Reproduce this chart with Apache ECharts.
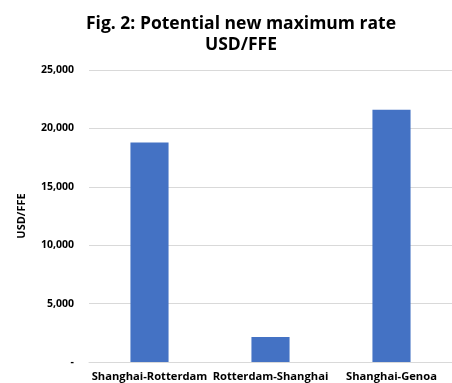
<!DOCTYPE html>
<html>
<head>
<meta charset="utf-8">
<script src="https://cdn.jsdelivr.net/npm/echarts@6/dist/echarts.min.js"></script>
<style>
html, body { margin: 0; padding: 0; background: #fff; }
#chart { width: 452px; height: 383px; }
</style>
</head>
<body>
<div id="chart"></div>
<script>
// routes and potential new maximum rates (USD/FFE)
const routes = ['Shanghai-Rotterdam', 'Rotterdam-Shanghai', 'Shanghai-Genoa'];
const rates = [18800, 2150, 21600];

const myc = echarts.init(document.getElementById('chart'));

const font = '"Open Sans", "Noto Sans", sans-serif';

const options = {
    animation: false,
    title: {
        text: 'Fig. 2: Potential new maximum rate\nUSD/FFE',
        left: 236,
        textAlign: 'center',
        top: 9,
        textStyle: {
            fontFamily: font,
            fontSize: 17.5,
            fontWeight: 'bold',
            color: '#000',
            lineHeight: 21
        }
    },
    grid: {
        left: 89,
        top: 70,
        width: 369,
        height: 292,
        containLabel: false
    },
    xAxis: {
        type: 'category',
        data: routes,
        axisTick: { show: false },
        axisLine: { lineStyle: { color: '#d9d9d9', width: 1 } },
        axisLabel: {
            interval: 0,
            margin: 9,
            fontFamily: font,
            fontSize: 11.2,
            fontWeight: 'bold',
            color: '#000'
        }
    },
    yAxis: {
        type: 'value',
        min: 0,
        max: 25000,
        interval: 5000,
        name: 'USD/FFE',
        nameLocation: 'middle',
        nameRotate: 90,
        nameGap: 62,
        nameTextStyle: {
            fontFamily: font,
            fontSize: 11,
            fontWeight: 'bold',
            color: '#000'
        },
        axisLine: { show: false },
        axisTick: { show: false },
        splitLine: { lineStyle: { color: '#d9d9d9', width: 1 } },
        axisLabel: {
            margin: 15,
            fontFamily: font,
            fontSize: 10.5,
            fontWeight: 'bold',
            color: '#000',
            formatter: function (v) {
                return v === 0 ? '-' : v.toLocaleString('en-US');
            }
        }
    },
    series: [
        {
            type: 'bar',
            data: rates,
            barWidth: '31.5%',
            itemStyle: { color: '#4472c4' }
        }
    ]
};

myc.setOption(options);
</script>
</body>
</html>
